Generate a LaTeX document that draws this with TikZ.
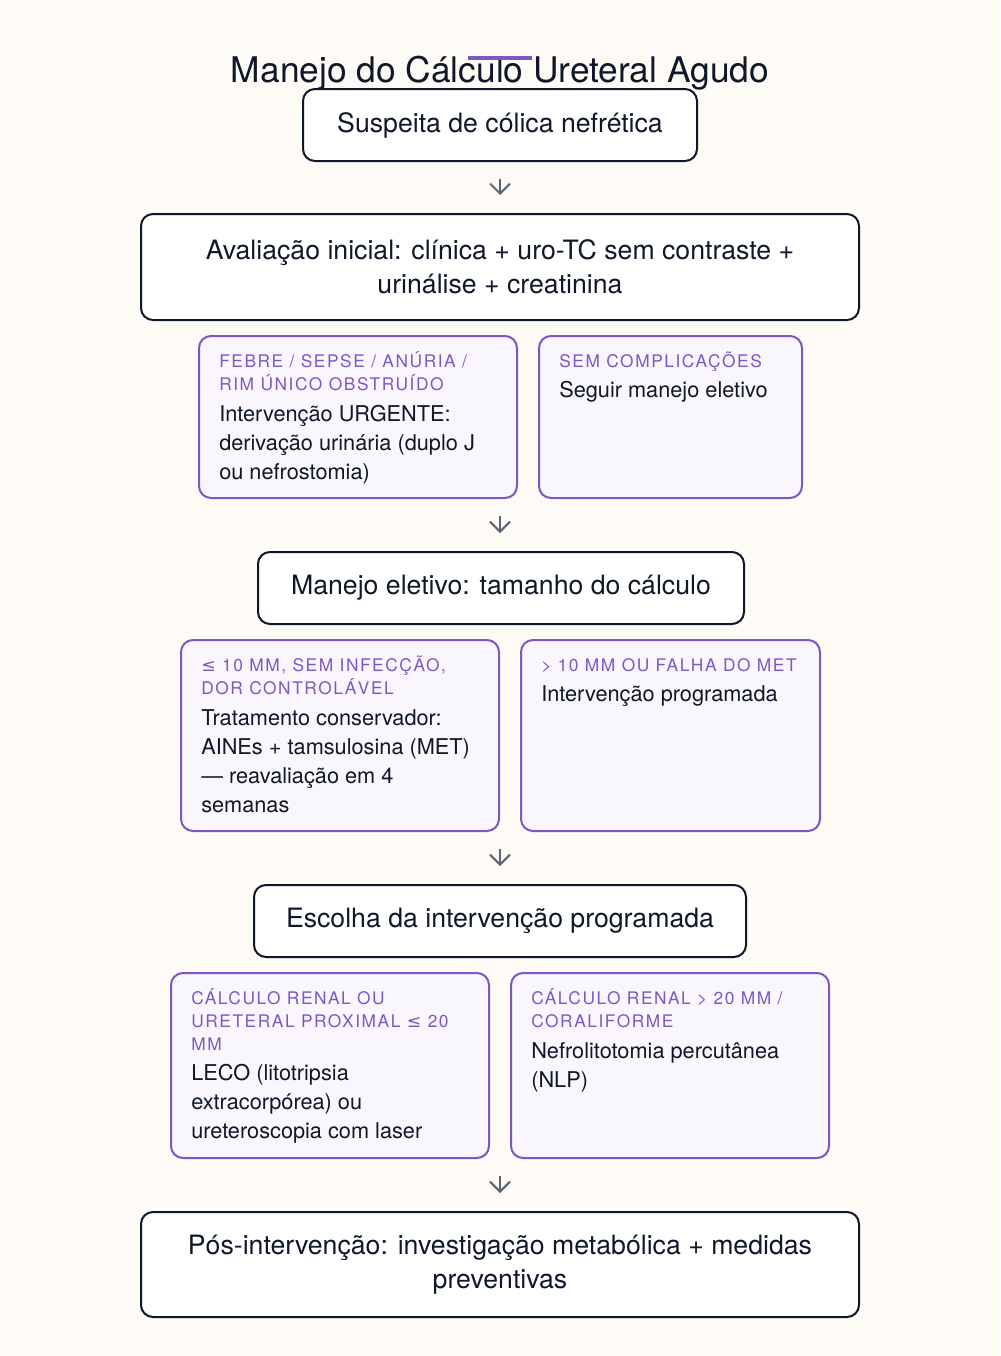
\documentclass[tikz,border=0pt]{standalone}
\usepackage{fontspec}
\setmainfont{TeX Gyre Heros}
\newfontfamily\lblfont[LetterSpace=9]{TeX Gyre Heros}
\newfontfamily\symfont{DejaVu Sans}
\usepackage{tikz}
\usetikzlibrary{positioning}
\usetikzlibrary{arrows.meta}

\definecolor{bgcream}{HTML}{FEFBF7}
\definecolor{inkdark}{HTML}{0F172A}
\definecolor{accentpurple}{HTML}{7E57C2}
\definecolor{lavfill}{HTML}{F9F6FD}
\definecolor{arrowgray}{HTML}{5B6477}

% struts so the first line of a text node sits at a fixed depth
\newcommand{\lblstrut}{\rule{0pt}{12.5pt}}
\newcommand{\txtstrut}{\rule{0pt}{15.5pt}}

\begin{document}
\begin{tikzpicture}[x=0.75pt, y=-0.75pt,
  stepbox/.style={draw=inkdark, line width=1.5pt, fill=white, rounded corners=9pt,
    text=inkdark, align=center, inner sep=0pt, font=\fontsize{20}{25.5}\selectfont},
  casebox/.style={draw=accentpurple, line width=1.5pt, fill=lavfill, rounded corners=9pt,
    inner sep=0pt},
  caselabel/.style={anchor=north west, inner sep=0pt, align=left, text=accentpurple,
    font=\lblfont\fontsize{13}{17.25}\selectfont},
  casetext/.style={anchor=north west, inner sep=0pt, align=left, text=inkdark,
    font=\fontsize{16.3}{21.75}\selectfont},
  flow/.style={draw=arrowgray, line width=1.5pt, -{Straight Barb[length=7.5pt, width=15pt]},
    shorten <=13pt, shorten >=13.5pt}
]

\fill[bgcream] (0,0) rectangle (1000,1356);
\useasboundingbox (0,0) rectangle (1000,1356);

% title
\node[anchor=base, inner sep=0pt, text=inkdark, font=\fontsize{26.5}{30}\selectfont] at (500,82) (title) {Manejo do Cálculo Ureteral  Agudo};
\draw[accentpurple, line width=2.6pt] (468,58) -- (532,58);

% main steps
\node[stepbox, minimum width=295.5pt, minimum height=54pt] at (500,125) (suspeita) {\rule[-4pt]{0pt}{4pt}Suspeita de cólica nefrética};
\node[stepbox, minimum width=538.5pt, minimum height=79.5pt] at (500,267) (avaliacao) {Avaliação  inicial: clínica + uro-TC sem contraste +\\urinálise + creatinina};

\node[casebox, minimum width=238.5pt, minimum height=121.5pt] at (358,417) (urgente) {};
\node[casebox, minimum width=197.25pt, minimum height=121.5pt] at (670.5,417) (semcompl) {};
\node[caselabel] at ([shift={(21,15.5)}]urgente.north west) (urgenteLbl) {\lblstrut FEBRE / SEPSE / ANÚRIA /\\RIM ÚNICO OBSTRUÍDO};
\node[casetext] at ([shift={(21,65.5)}]urgente.north west) (urgenteTxt) {\txtstrut Intervenção  URGENTE:\\derivação urinária (duplo J\\ou nefrostomia)};
\node[caselabel] at ([shift={(21,15.5)}]semcompl.north west) (semcomplLbl) {\lblstrut SEM COMPLICAÇÕES};
\node[casetext] at ([shift={(21,42)}]semcompl.north west) (semcomplTxt) {\txtstrut Seguir manejo eletivo};

\node[stepbox, minimum width=364.5pt, minimum height=54pt] at (501,588) (eletivo) {\rule[-4pt]{0pt}{4pt}Manejo eletivo:  tamanho do cálculo};

\node[casebox, minimum width=238.5pt, minimum height=143.25pt] at (340,735.5) (conserv) {};
\node[casebox, minimum width=224.25pt, minimum height=143.25pt] at (670.5,735.5) (maior) {};
\node[caselabel] at ([shift={(21,15.5)}]conserv.north west) (conservLbl) {\lblstrut{\symfont ≤} 10 MM, SEM INFECÇÃO,\\DOR CONTROLÁVEL};
\node[casetext] at ([shift={(21,65.5)}]conserv.north west) (conservTxt) {\txtstrut Tratamento  conservador:\\AINEs + tamsulosina (MET)\\— reavaliação  em 4\\semanas};
\node[caselabel] at ([shift={(21,15.5)}]maior.north west) (maiorLbl) {\lblstrut > 10 MM OU FALHA  DO MET};
\node[casetext] at ([shift={(21,42)}]maior.north west) (maiorTxt) {\txtstrut Intervenção  programada};

\node[stepbox, minimum width=369pt, minimum height=54pt] at (500,921) (escolha) {\rule[-4pt]{0pt}{4pt}Escolha da intervenção  programada};

\node[casebox, minimum width=238.5pt, minimum height=138.75pt] at (330,1065.5) (leco) {};
\node[casebox, minimum width=238.5pt, minimum height=138.75pt] at (670,1065.5) (nlp) {};
\node[caselabel] at ([shift={(21,15.5)}]leco.north west) (lecoLbl) {\lblstrut CÁLCULO RENAL OU\\URETERAL PROXIMAL {\symfont ≤} 20\\MM};
\node[casetext] at ([shift={(21,88)}]leco.north west) (lecoTxt) {\txtstrut LECO (litotripsia\\extracorpórea)  ou\\ureteroscopia  com laser};
\node[caselabel] at ([shift={(21,15.5)}]nlp.north west) (nlpLbl) {\lblstrut CÁLCULO RENAL > 20 MM /\\CORALIFORME};
\node[casetext] at ([shift={(21,65.5)}]nlp.north west) (nlpTxt) {\txtstrut Nefrolitotomia  percutânea\\(NLP)};

\node[stepbox, minimum width=538.5pt, minimum height=78.75pt] at (500,1264.5) (posint) {Pós-intervenção:  investigação  metabólica + medidas\\preventivas};

% arrows
\draw[flow] (suspeita.south) -- (avaliacao.north);
\draw[flow] (avaliacao.south |- urgente.south) -- (avaliacao.south |- eletivo.north);
\draw[flow] (escolha.north |- conserv.south) -- (escolha.north);
\draw[flow] (posint.north |- leco.south) -- (posint.north);

\end{tikzpicture}
\end{document}
